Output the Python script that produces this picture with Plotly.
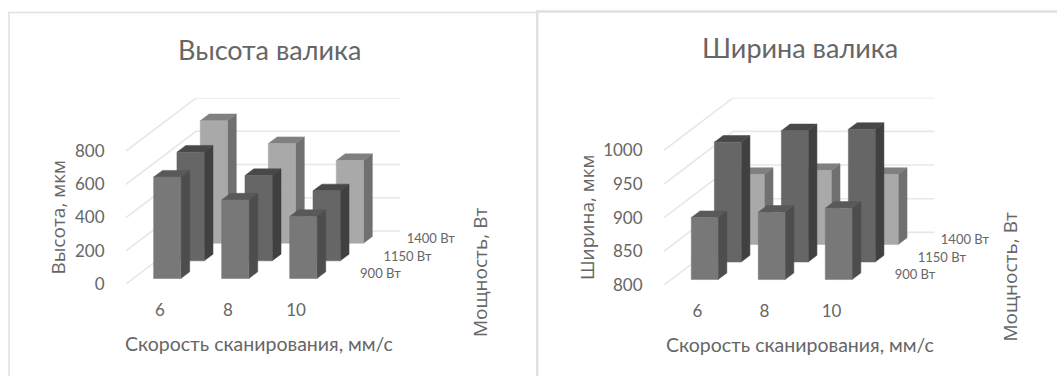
import plotly.graph_objects as go

# Scan speed categories and laser power rows
speeds = ["6", "8", "10"]
powers = ["900 Вт", "1150 Вт", "1400 Вт"]

# Bead height, um: one list per power, one value per speed
height_900 = [610, 472, 373]
height_1150 = [654, 513, 421]
height_1400 = [737, 599, 497]
height_ticks = [0, 200, 400, 600, 800]

# Bead width, um
width_900 = [892, 900, 906]
width_1150 = [978, 995, 997]
width_1400 = [904, 910, 904]
width_ticks = [800, 850, 900, 950, 1000]

W, H = 1057, 376
FONT = "Lato"
SIDE_FONT = "Open Sans"
TEXT = "#666666"
GRID = "#e7e7e7"
FRAME = "#e0e0e0"

# Face colours for each power row: front, side, top
FACES = [
    ("#787878", "#4d4d4d", "#595959"),
    ("#666666", "#404040", "#484848"),
    ("#a9a9a9", "#707070", "#808080"),
]

BAR_W = 0.40      # bar width as a share of a category
BAR_START = 0.31  # bar start within a depth band
BAR_DEPTH = 0.38  # bar length within a depth band
LABEL_ROOM = 70   # extra axis length, in pixels, that keeps the power labels in range


def px(x):
    return x / W


def py(y):
    return 1 - y / H


def add_chart(fig, idx, title, y_title, rows, ticks, box, text_pos):
    left, right, bottom, top, pitch, dx_px, dy_px, tick_px = box
    xa, ya = f"x{idx}", f"y{idx}"
    base, peak = ticks[0], ticks[-1]
    units_per_px = (peak - base) / tick_px
    # Oblique projection: one depth band shifts by this much in axis units
    ddx = dx_px / pitch
    ddy = dy_px * units_per_px

    def sx(c, d):
        return c + d * ddx

    def sy(v, d):
        return v + d * ddy

    # Wall and floor grid lines
    gx, gy = [], []
    for v in ticks:
        gx += [sx(0, 0), sx(0, 3), sx(3, 3), None]
        gy += [sy(v, 0), sy(v, 3), sy(v, 3), None]
    fig.add_trace(go.Scatter(x=gx, y=gy, xaxis=xa, yaxis=ya, mode="lines",
                             line=dict(color=GRID, width=1.6), hoverinfo="skip"))

    # Bars, painted from the back row forward
    for r in (2, 1, 0):
        front_col, side_col, top_col = FACES[r]
        d0, d1 = r + BAR_START, r + BAR_START + BAR_DEPTH
        fx, fy, sx_, sy_, tx, ty = [], [], [], [], [], []
        for c, v in enumerate(rows[r]):
            c0, c1 = c + (1 - BAR_W) / 2, c + (1 + BAR_W) / 2
            fx += [sx(c0, d0), sx(c1, d0), sx(c1, d0), sx(c0, d0), sx(c0, d0), None]
            fy += [sy(base, d0), sy(base, d0), sy(v, d0), sy(v, d0), sy(base, d0), None]
            sx_ += [sx(c1, d0), sx(c1, d1), sx(c1, d1), sx(c1, d0), sx(c1, d0), None]
            sy_ += [sy(base, d0), sy(base, d1), sy(v, d1), sy(v, d0), sy(base, d0), None]
            tx += [sx(c0, d0), sx(c1, d0), sx(c1, d1), sx(c0, d1), sx(c0, d0), None]
            ty += [sy(v, d0), sy(v, d0), sy(v, d1), sy(v, d1), sy(v, d0), None]
        for xs, ys, col in ((sx_, sy_, side_col), (tx, ty, top_col), (fx, fy, front_col)):
            fig.add_trace(go.Scatter(x=xs, y=ys, xaxis=xa, yaxis=ya, mode="lines",
                                     fill="toself", fillcolor=col,
                                     line=dict(color=col, width=0.5), hoverinfo="skip"))

    # Power labels sit beside the floor, one per depth band
    fig.add_trace(go.Scatter(
        x=[sx(3.27, r + 0.5) for r in range(3)],
        y=[sy(base, r + 0.5) for r in range(3)],
        xaxis=xa, yaxis=ya, mode="text", text=powers, textposition="middle right",
        textfont=dict(family=FONT, size=13, color=TEXT), cliponaxis=False,
        hoverinfo="skip"))

    suffix = "" if idx == 1 else str(idx)
    x_range = [0, 3 + 3 * ddx + LABEL_ROOM / pitch]
    y_range = [base, peak + 3 * ddy]
    fig.layout["xaxis" + suffix] = dict(
        domain=[px(left), px(right + LABEL_ROOM)], range=x_range, anchor="y" + suffix,
        tickmode="array", tickvals=[0.5, 1.5, 2.5], ticktext=speeds,
        ticks="outside", ticklen=11, tickcolor="rgba(0,0,0,0)", automargin=False,
        showgrid=False, zeroline=False, showline=False,
        tickfont=dict(family=FONT, size=17, color=TEXT))
    fig.layout["yaxis" + suffix] = dict(
        domain=[py(bottom), py(top)], range=y_range, anchor="x" + suffix,
        tickmode="array", tickvals=ticks,
        ticks="outside", ticklen=17, tickcolor="rgba(0,0,0,0)", automargin=False,
        showgrid=False, zeroline=False, showline=False,
        tickfont=dict(family=FONT, size=17, color=TEXT))

    tp = text_pos
    notes = [
        (title, tp["title"], 27, 0, FONT),
        ("Скорость сканирования, мм/с", tp["xtitle"], 19.5, 0, FONT),
        (y_title, tp["ytitle"], 19, -90, SIDE_FONT),
        ("Мощность, Вт", tp["ztitle"], 19, -90, SIDE_FONT),
    ]
    for text, (nx, ny), size, angle, family in notes:
        fig.add_annotation(text=text, x=px(nx), y=py(ny), xref="paper", yref="paper",
                           showarrow=False, textangle=angle, xanchor="center",
                           yanchor="middle", font=dict(family=family, size=size, color=TEXT))


fig = go.Figure()

add_chart(fig, 1, "Высота валика", "Высота, мкм",
          [height_900, height_1150, height_1400], height_ticks,
          (126, 400, 284, 98, 68, 23.3, 17.67, 133),
          dict(title=(269, 49), xtitle=(259, 343), ytitle=(57, 217.5), ztitle=(480, 273)))

add_chart(fig, 2, "Ширина валика", "Ширина, мкм",
          [width_900, width_1150, width_1400], width_ticks,
          (664, 934.3, 285, 97.7, 67, 23.1, 17.53, 134.6),
          dict(title=(800, 48), xtitle=(800, 344), ytitle=(587, 217), ztitle=(1009, 277.5)))

# Chart frames
for x0, x1, y0, width in ((9, 536, 12.5, 1.5), (537.2, 1058, 11.5, 2.4)):
    fig.add_shape(type="path",
                  path=f"M {px(x0)} {py(378)} L {px(x0)} {py(y0)} L {px(x1)} {py(y0)}",
                  xref="paper", yref="paper", line=dict(color=FRAME, width=width))

fig.update_layout(width=W, height=H, autosize=False, showlegend=False,
                  margin=dict(l=0, r=0, t=0, b=0),
                  paper_bgcolor="white", plot_bgcolor="white")

fig.write_html("out.html", config=dict(displayModeBar=False))
